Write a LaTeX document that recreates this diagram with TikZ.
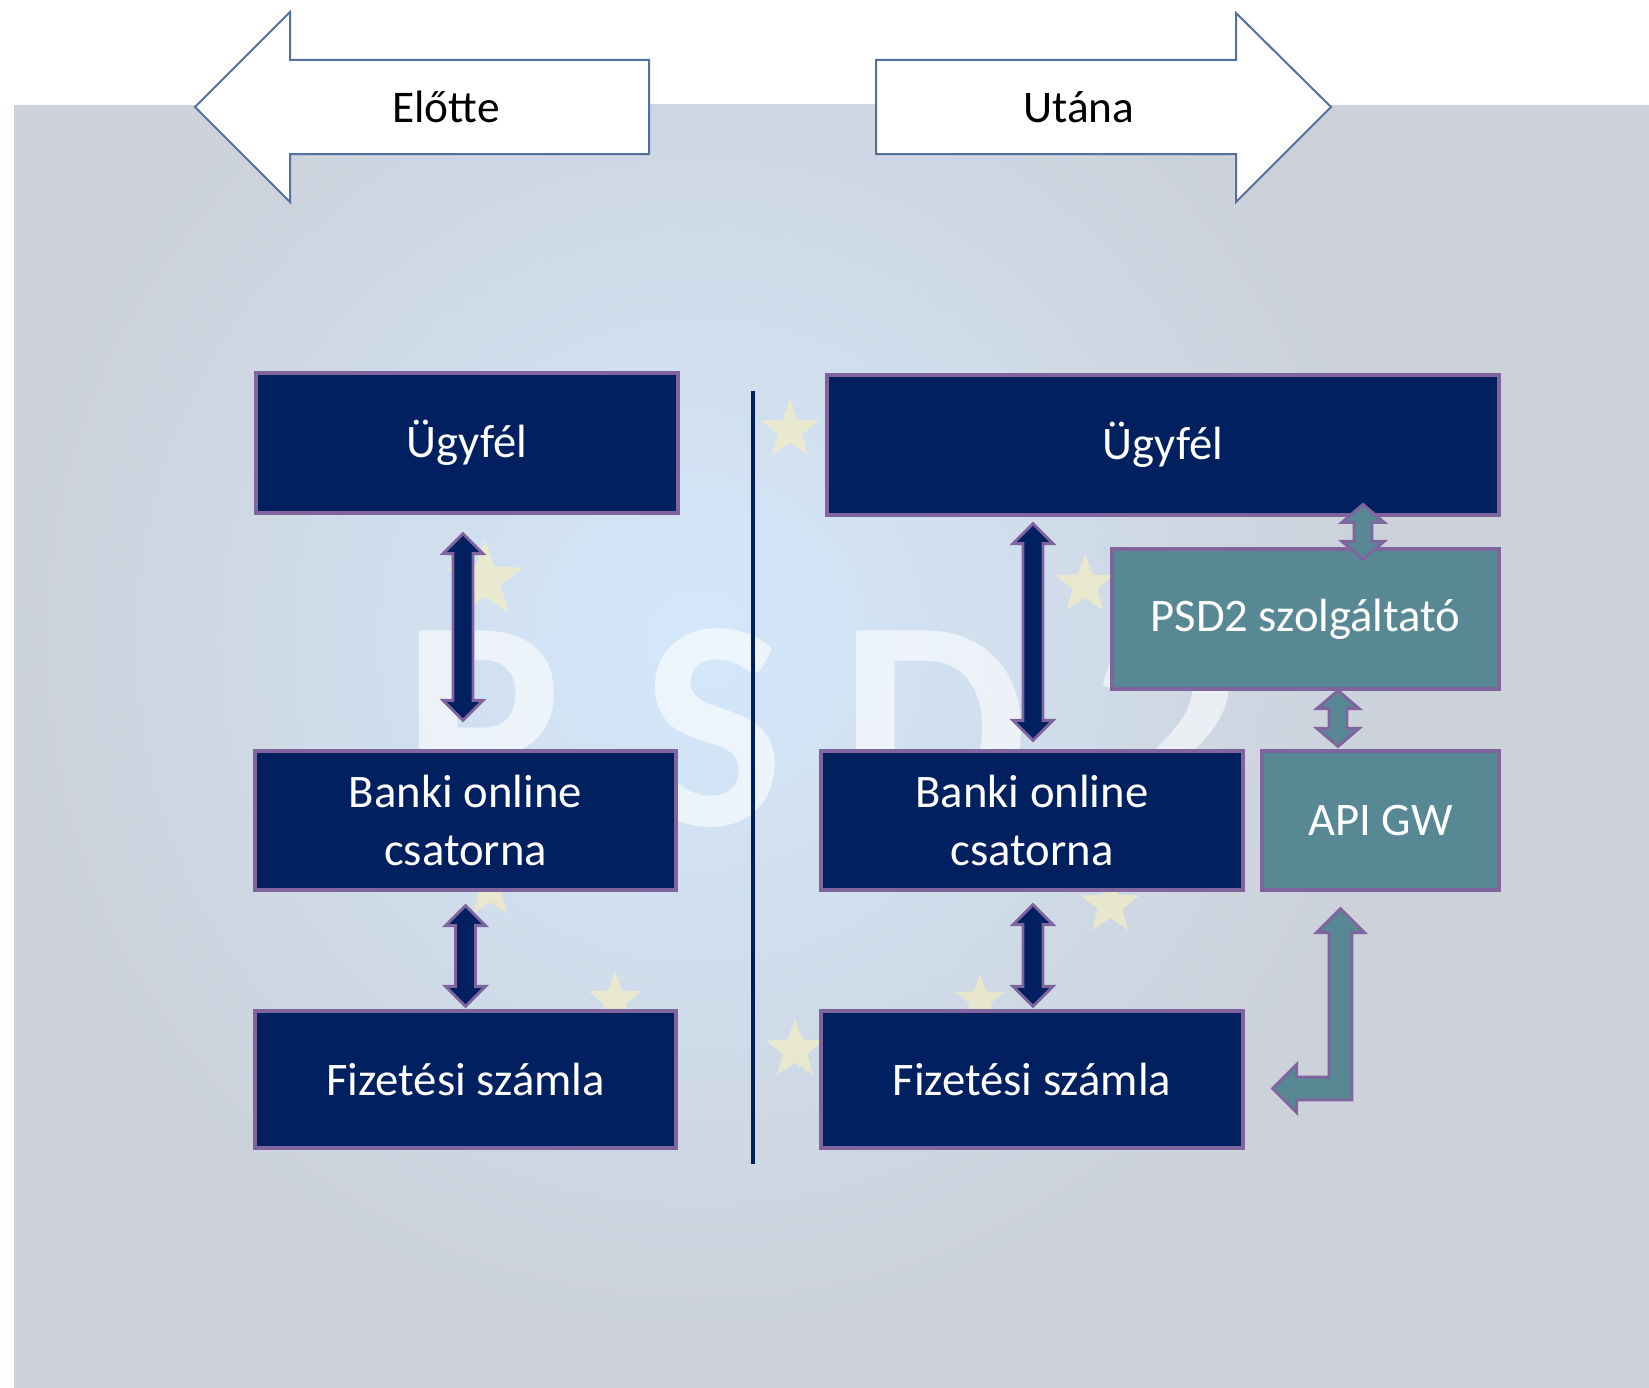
\documentclass[tikz,border=0pt]{standalone}
\usepackage{fontspec}
\setmainfont{Carlito}
\usetikzlibrary{calc,shapes.geometric}

\definecolor{navy}{RGB}{0,32,96}
\definecolor{tealbox}{RGB}{88,136,148}
\definecolor{lilac}{RGB}{128,100,158}
\definecolor{steel}{RGB}{84,112,160}
\definecolor{bggray}{RGB}{204,209,218}
\definecolor{bgglow}{RGB}{212,232,252}
\definecolor{paleyellow}{RGB}{244,238,196}

\tikzset{every picture/.style={line width=0.75pt}}
\tikzset{
  boxsize/.style 2 args={minimum width=#1*0.75pt, minimum height=#2*0.75pt},
  navybox/.style={draw=lilac, line width=2.4pt, fill=navy, text=white, inner sep=0pt,
    align=center, font=\fontsize{35}{43.5}\selectfont},
  greenbox/.style={navybox, fill=tealbox},
  navyarr/.style={draw=lilac, line width=2.2pt, fill=navy},
  greenarr/.style={draw=lilac, line width=2.2pt, fill=tealbox},
  titlearr/.style={draw=steel, line width=1.5pt, fill=white},
  titletext/.style={font=\fontsize{34}{40}\selectfont},
  bgstar/.style={star, star points=5, star point ratio=2.4, fill=paleyellow, opacity=0.7, inner sep=0pt},
  bgletter/.style={text=white, opacity=0.6, font=\fontsize{225}{225}\selectfont\bfseries}
}

% double block arrow: style, top tip, bottom tip, shaft half, head half, head length
\newcommand{\updown}[6]{%
  \draw[#1] (#2) -- ($(#2)+(#5,#6)$) -- ($(#2)+(#4,#6)$) -- ($(#3)+(#4,-#6)$) -- ($(#3)+(#5,-#6)$) -- (#3)
    -- ($(#3)+(-#5,-#6)$) -- ($(#3)+(-#4,-#6)$) -- ($(#2)+(-#4,#6)$) -- ($(#2)+(-#5,#6)$) -- cycle;}

\begin{document}
\begin{tikzpicture}[x=0.75pt,y=0.75pt,yscale=-1,xscale=1]
\useasboundingbox (0,0) rectangle (1649,1388);

%Background
\fill[bggray] (14,105) rectangle (1649,1388);
\begin{scope}
\clip (14,105) rectangle (1649,1388);
\shade[inner color=bgglow, outer color=bggray] (700,640) circle (700);
\foreach \sx/\sy/\ss in {485/580/80, 790/430/62, 1085/585/62, 490/890/58, 1110/905/62, 615/1000/56, 980/1000/52, 795/1050/62}
  \node[bgstar, minimum size=\ss*0.75pt] at (\sx,\sy) {};
\foreach \lx/\lt in {482/P, 713/S, 934/D, 1167/2}
  \node[bgletter] at (\lx,728) {\lt};
\end{scope}

%Title arrows
\draw[titlearr] (649,60) -- (290,60) -- (290,12) -- (195,107) -- (290,202) -- (290,154) -- (649,154) -- cycle;
\node[titletext] (before) at (446,107) {Előtte};
\draw[titlearr] (876,60) -- (1236,60) -- (1236,13) -- (1331,107) -- (1236,202) -- (1236,154) -- (876,154) -- cycle;
\node[titletext] (after) at (1079,107) {Utána};

%Separator
\draw[navy, line width=3.3pt] (753,391) -- (753,1164);

% Boxes, before
\node[navybox, boxsize={422}{140}] (u1) at (467,443) {Ügyfél};
\node[navybox, boxsize={421}{139}] (b1) at (465.5,820.5) {Banki online\\csatorna};
\node[navybox, boxsize={421}{137}] (f1) at (465.5,1079.5) {Fizetési számla};

% Boxes, after
\node[navybox, boxsize={672}{140}] (u2) at (1163,445) {Ügyfél};
\node[greenbox, boxsize={387}{140}] (p2) at (1305.5,619) {PSD2 szolgáltató};
\node[greenbox, boxsize={237}{139}] (g2) at (1380.5,820.5) {API GW};
\node[navybox, boxsize={422}{139}] (b2) at (1032,820.5) {Banki online\\csatorna};
\node[navybox, boxsize={422}{137}] (f2) at (1032,1079.5) {Fizetési számla};

% Arrow ends
\coordinate (a1t) at ($(u1.south)+(-4,19)$);
\coordinate (a1b) at ($(a1t |- b1.north)+(0,-29)$);
\coordinate (a2t) at ($(b1.south)+(0,14)$);
\coordinate (a2b) at ($(a2t |- f1.north)+(0,-3)$);
\coordinate (a3t) at ($(b2.north |- u2.south)+(1,7)$);
\coordinate (a3b) at ($(b2.north)+(1,-9)$);
\coordinate (a4t) at ($(b2.south)+(1,13)$);
\coordinate (a4b) at ($(a4t |- f2.north)+(0,-3)$);
\coordinate (a5t) at ($(p2.north)+(57.5,-43)$);
\coordinate (a5b) at ($(p2.north)+(57.5,12)$);
\coordinate (a6t) at ($(p2.south)+(32.5,0)$);
\coordinate (a6b) at ($(a6t |- g2.north)+(0,-3)$);
\coordinate (bt) at ($(g2.south)+(-40,17)$);
\coordinate (bl) at ($(f2.east)+(28,9)$);

% Arrows
\updown{navyarr}{a1t}{a1b}{10}{20}{20}
\updown{navyarr}{a2t}{a2b}{10}{20}{20}
\updown{navyarr}{a3t}{a3b}{10}{20}{20}
\updown{navyarr}{a4t}{a4b}{10}{20}{20}
\updown{greenarr}{a5t}{a5b}{9}{21}{18}
\updown{greenarr}{a6t}{a6b}{9}{21}{18}

%Bent arrow API GW -- Fizetesi szamla
\draw[greenarr] (bt) -- ($(bt)+(24,24)$) -- ($(bt)+(11.5,24)$) -- ($(bt |- bl)+(11.5,11.5)$) -- ($(bl)+(24,11.5)$)
  -- ($(bl)+(24,24)$) -- (bl) -- ($(bl)+(24,-24)$) -- ($(bl)+(24,-11.5)$) -- ($(bt |- bl)+(-11.5,-11.5)$)
  -- ($(bt)+(-11.5,24)$) -- ($(bt)+(-24,24)$) -- cycle;

\end{tikzpicture}
\end{document}
